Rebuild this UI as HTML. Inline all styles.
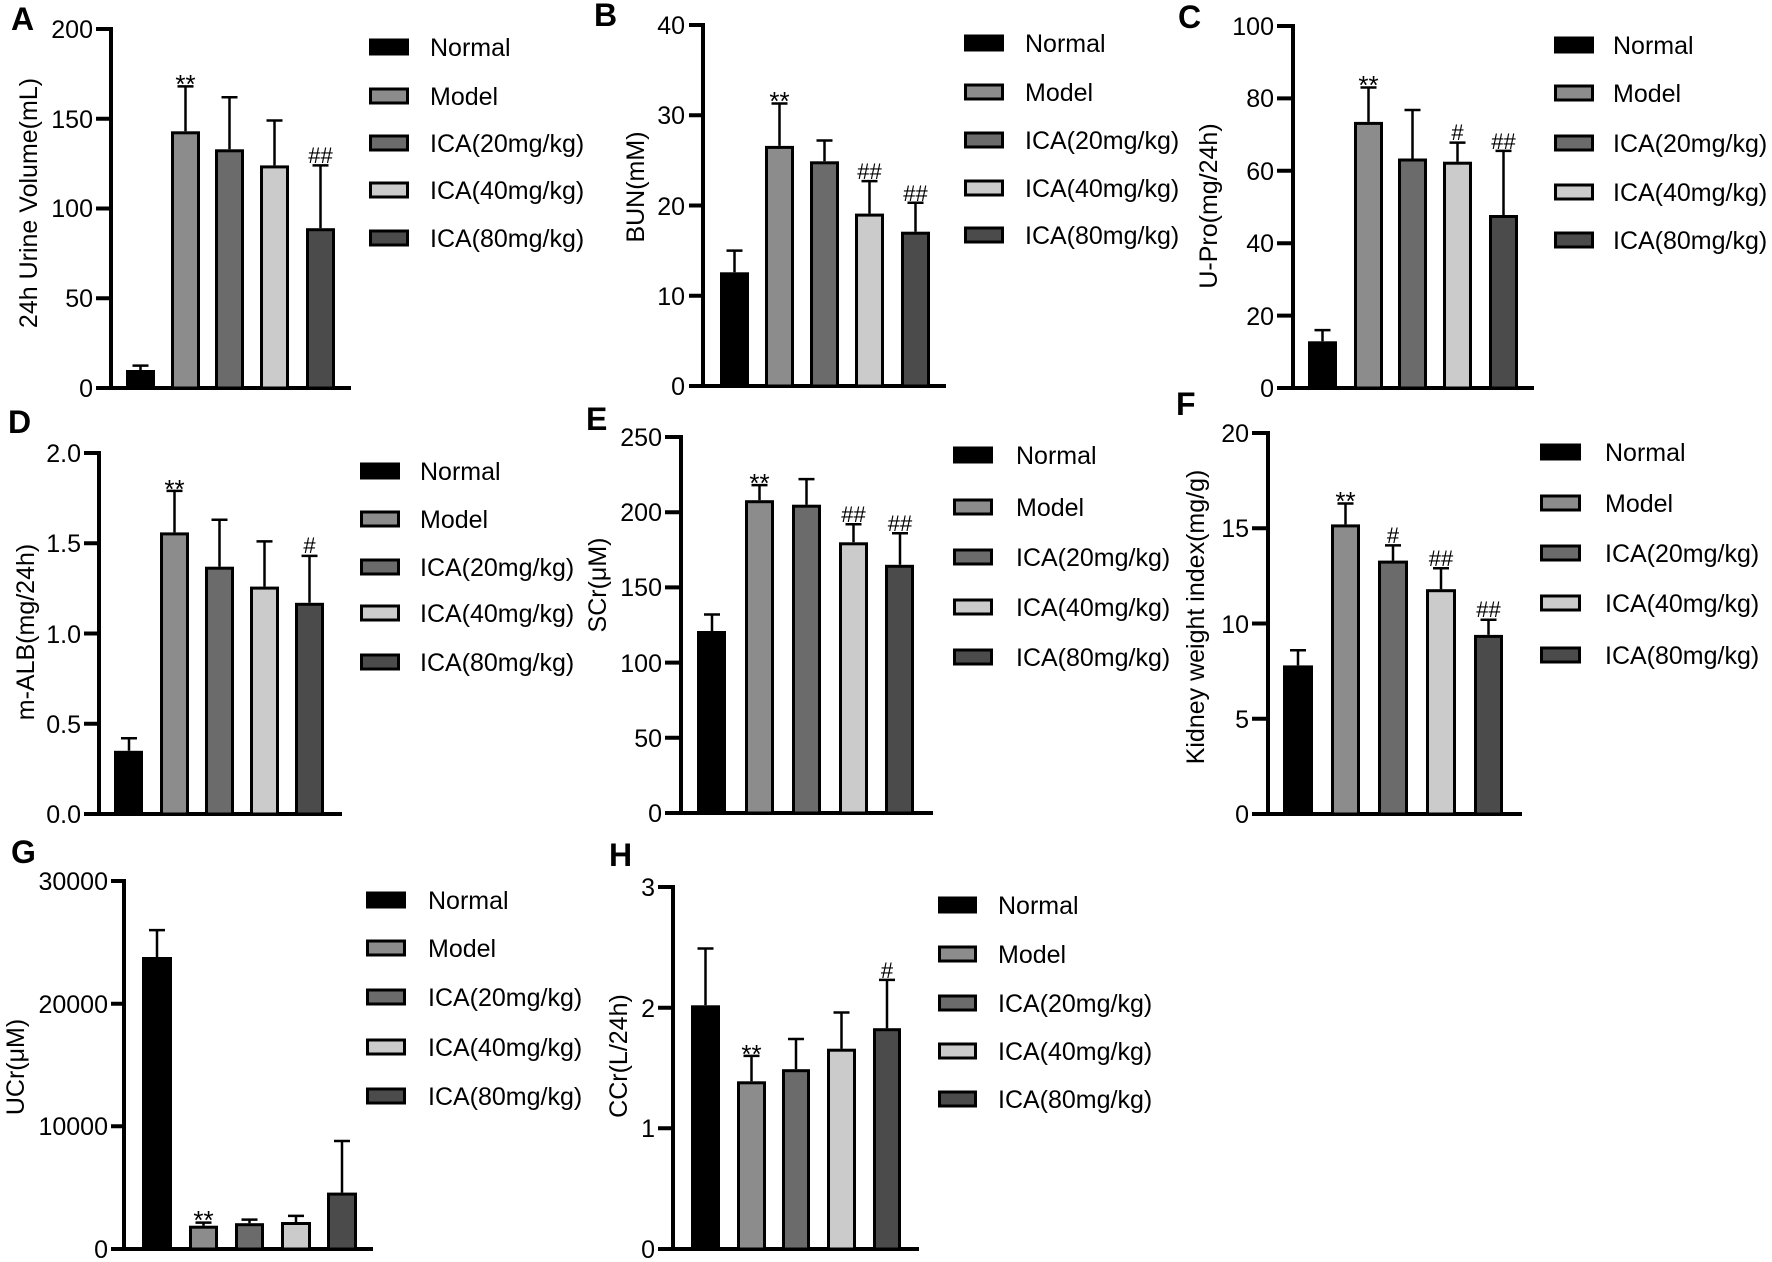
<!DOCTYPE html>
<html><head><meta charset="utf-8"><style>
html,body{margin:0;padding:0;background:#fff;}
svg{display:block;font-family:"Liberation Sans",Arial,sans-serif;}
.t{font-size:25px;fill:#000;}
.tk{font-size:25px;text-anchor:end;}
.yl{font-size:25px;text-anchor:middle;}
.pl{font-size:32px;font-weight:bold;}
.s{font-size:22px;text-anchor:middle;}
.a{font-size:26px;text-anchor:middle;}
.ax{stroke:#000;stroke-width:4;fill:none;}
.b{stroke:#000;stroke-width:3;}
.e{stroke:#000;stroke-width:2.5;fill:none;}
</style></head><body>
<svg width="1772" height="1262" viewBox="0 0 1772 1262" xmlns="http://www.w3.org/2000/svg">
<rect width="1772" height="1262" fill="#fff"/>

<!-- Panel A -->
<text class="pl" x="11" y="30">A</text>
<path class="ax" d="M111 27V388H351M96 388H111M96 298.25H111M96 208.5H111M96 118.75H111M96 29H111"/>
<text class="tk" x="93" y="397">0</text><text class="tk" x="93" y="307">50</text><text class="tk" x="93" y="217">100</text><text class="tk" x="93" y="128">150</text><text class="tk" x="93" y="38">200</text>
<text class="yl" transform="translate(28,203) rotate(-90)" dy="9">24h Urine Volume(mL)</text>
<rect class="b" x="127.5" y="371.5" width="26" height="16.5" fill="#000"/>
<rect class="b" x="172.5" y="132.8" width="26" height="255.2" fill="#8c8c8c"/>
<rect class="b" x="216.5" y="150.8" width="26" height="237.2" fill="#6b6b6b"/>
<rect class="b" x="261.5" y="166.9" width="26" height="221.1" fill="#cbcbcb"/>
<rect class="b" x="307.5" y="229.7" width="26" height="158.3" fill="#4b4b4b"/>
<path class="e" d="M140.5 370V365.6M132.5 365.6H148.5M185.5 131.3V86.4M177.5 86.4H193.5M229.5 149.3V97.2M221.5 97.2H237.5M274.5 165.4V120.5M266.5 120.5H282.5M320.5 228.2V165.4M312.5 165.4H328.5"/>
<text class="a" x="185.5" y="93">**</text><text class="s" x="320.5" y="163">##</text>
<g>
<rect class="b" x="370.5" y="40" width="37" height="14" fill="#000"/><text class="t" x="430" y="56">Normal</text>
<rect class="b" x="370.5" y="89" width="37" height="14" fill="#8c8c8c"/><text class="t" x="430" y="105">Model</text>
<rect class="b" x="370.5" y="136" width="37" height="14" fill="#6b6b6b"/><text class="t" x="430" y="152">ICA(20mg/kg)</text>
<rect class="b" x="370.5" y="183" width="37" height="14" fill="#cbcbcb"/><text class="t" x="430" y="199">ICA(40mg/kg)</text>
<rect class="b" x="370.5" y="231" width="37" height="14" fill="#4b4b4b"/><text class="t" x="430" y="247">ICA(80mg/kg)</text>
</g>

<!-- Panel B -->
<text class="pl" x="594" y="26">B</text>
<path class="ax" d="M703 23V386H946M689 386H703M689 295.75H703M689 205.5H703M689 115.25H703M689 25H703"/>
<text class="tk" x="685" y="395">0</text><text class="tk" x="685" y="305">10</text><text class="tk" x="685" y="215">20</text><text class="tk" x="685" y="124">30</text><text class="tk" x="685" y="34">40</text>
<text class="yl" transform="translate(635,187) rotate(-90)" dy="9">BUN(mM)</text>
<rect class="b" x="721.5" y="273.8" width="26" height="112.2" fill="#000"/>
<rect class="b" x="766.5" y="147.4" width="26" height="238.6" fill="#8c8c8c"/>
<rect class="b" x="811.5" y="162.8" width="26" height="223.2" fill="#6b6b6b"/>
<rect class="b" x="856.5" y="215.1" width="26" height="170.9" fill="#cbcbcb"/>
<rect class="b" x="902.5" y="233.2" width="26" height="152.8" fill="#4b4b4b"/>
<path class="e" d="M734.5 272.3V250.6M726.5 250.6H742.5M779.5 145.9V103.5M771.5 103.5H787.5M824.5 161.3V140.5M816.5 140.5H832.5M869.5 213.6V181.1M861.5 181.1H877.5M915.5 231.7V202.8M907.5 202.8H923.5"/>
<text class="a" x="779.5" y="110">**</text><text class="s" x="869.5" y="179">##</text><text class="s" x="915.5" y="201">##</text>
<g>
<rect class="b" x="965.5" y="36" width="37" height="14" fill="#000"/><text class="t" x="1025" y="52">Normal</text>
<rect class="b" x="965.5" y="85" width="37" height="14" fill="#8c8c8c"/><text class="t" x="1025" y="101">Model</text>
<rect class="b" x="965.5" y="133" width="37" height="14" fill="#6b6b6b"/><text class="t" x="1025" y="149">ICA(20mg/kg)</text>
<rect class="b" x="965.5" y="181" width="37" height="14" fill="#cbcbcb"/><text class="t" x="1025" y="197">ICA(40mg/kg)</text>
<rect class="b" x="965.5" y="228" width="37" height="14" fill="#4b4b4b"/><text class="t" x="1025" y="244">ICA(80mg/kg)</text>
</g>

<!-- Panel C -->
<text class="pl" x="1178" y="28">C</text>
<path class="ax" d="M1293 24V388H1534M1277 388H1293M1277 315.6H1293M1277 243.2H1293M1277 170.8H1293M1277 98.4H1293M1277 26H1293"/>
<text class="tk" x="1274" y="397">0</text><text class="tk" x="1274" y="325">20</text><text class="tk" x="1274" y="252">40</text><text class="tk" x="1274" y="180">60</text><text class="tk" x="1274" y="107">80</text><text class="tk" x="1274" y="35">100</text>
<text class="yl" transform="translate(1208,206) rotate(-90)" dy="9">U-Pro(mg/24h)</text>
<rect class="b" x="1309.5" y="342.8" width="26" height="45.2" fill="#000"/>
<rect class="b" x="1355.5" y="123.4" width="26" height="264.6" fill="#8c8c8c"/>
<rect class="b" x="1399.5" y="160" width="26" height="228" fill="#6b6b6b"/>
<rect class="b" x="1444.5" y="163.2" width="26" height="224.8" fill="#cbcbcb"/>
<rect class="b" x="1490.5" y="216.5" width="26" height="171.5" fill="#4b4b4b"/>
<path class="e" d="M1322.5 341.3V330.1M1314.5 330.1H1330.5M1368.5 121.9V87.5M1360.5 87.5H1376.5M1412.5 158.5V110M1404.5 110H1420.5M1457.5 161.7V142.6M1449.5 142.6H1465.5M1503.5 215V150.9M1495.5 150.9H1511.5"/>
<text class="a" x="1368.5" y="94">**</text><text class="s" x="1457.5" y="140">#</text><text class="s" x="1503.5" y="149">##</text>
<g>
<rect class="b" x="1555.5" y="38" width="37" height="14" fill="#000"/><text class="t" x="1613" y="54">Normal</text>
<rect class="b" x="1555.5" y="86" width="37" height="14" fill="#8c8c8c"/><text class="t" x="1613" y="102">Model</text>
<rect class="b" x="1555.5" y="136" width="37" height="14" fill="#6b6b6b"/><text class="t" x="1613" y="152">ICA(20mg/kg)</text>
<rect class="b" x="1555.5" y="185" width="37" height="14" fill="#cbcbcb"/><text class="t" x="1613" y="201">ICA(40mg/kg)</text>
<rect class="b" x="1555.5" y="233" width="37" height="14" fill="#4b4b4b"/><text class="t" x="1613" y="249">ICA(80mg/kg)</text>
</g>

<!-- Panel D -->
<text class="pl" x="8" y="433">D</text>
<path class="ax" d="M99 451V814H342M84 814H99M84 723.75H99M84 633.5H99M84 543.25H99M84 453H99"/>
<text class="tk" x="81" y="823">0.0</text><text class="tk" x="81" y="733">0.5</text><text class="tk" x="81" y="643">1.0</text><text class="tk" x="81" y="552">1.5</text><text class="tk" x="81" y="462">2.0</text>
<text class="yl" transform="translate(25,632) rotate(-90)" dy="9">m-ALB(mg/24h)</text>
<rect class="b" x="115.5" y="752.3" width="26" height="61.7" fill="#000"/>
<rect class="b" x="161.5" y="533.9" width="26" height="280.1" fill="#8c8c8c"/>
<rect class="b" x="206.5" y="568.2" width="26" height="245.8" fill="#6b6b6b"/>
<rect class="b" x="251.5" y="588.1" width="26" height="225.9" fill="#cbcbcb"/>
<rect class="b" x="296.5" y="604.3" width="26" height="209.7" fill="#4b4b4b"/>
<path class="e" d="M129 750.8V738.2M121 738.2H137M174.5 532.4V490.9M166.5 490.9H182.5M219.5 566.7V519.8M211.5 519.8H227.5M264.5 586.6V541.4M256.5 541.4H272.5M309.5 602.8V555.9M301.5 555.9H317.5"/>
<text class="a" x="174.5" y="498">**</text><text class="s" x="309.5" y="553">#</text>
<g>
<rect class="b" x="361.5" y="464" width="37" height="14" fill="#000"/><text class="t" x="420" y="480">Normal</text>
<rect class="b" x="361.5" y="512" width="37" height="14" fill="#8c8c8c"/><text class="t" x="420" y="528">Model</text>
<rect class="b" x="361.5" y="560" width="37" height="14" fill="#6b6b6b"/><text class="t" x="420" y="576">ICA(20mg/kg)</text>
<rect class="b" x="361.5" y="606" width="37" height="14" fill="#cbcbcb"/><text class="t" x="420" y="622">ICA(40mg/kg)</text>
<rect class="b" x="361.5" y="655" width="37" height="14" fill="#4b4b4b"/><text class="t" x="420" y="671">ICA(80mg/kg)</text>
</g>

<!-- Panel E -->
<text class="pl" x="586" y="430">E</text>
<path class="ax" d="M681 435V813H933M665 813H681M665 737.8H681M665 662.6H681M665 587.4H681M665 512.2H681M665 437H681"/>
<text class="tk" x="662" y="822">0</text><text class="tk" x="662" y="747">50</text><text class="tk" x="662" y="672">100</text><text class="tk" x="662" y="596">150</text><text class="tk" x="662" y="521">200</text><text class="tk" x="662" y="446">250</text>
<text class="yl" transform="translate(597,585) rotate(-90)" dy="9">SCr(μM)</text>
<rect class="b" x="698.5" y="632.5" width="26" height="180.5" fill="#000"/>
<rect class="b" x="746.5" y="501.7" width="26" height="311.3" fill="#8c8c8c"/>
<rect class="b" x="793.5" y="506.2" width="26" height="306.8" fill="#6b6b6b"/>
<rect class="b" x="840.5" y="543.8" width="26" height="269.2" fill="#cbcbcb"/>
<rect class="b" x="886.5" y="566.3" width="26" height="246.7" fill="#4b4b4b"/>
<path class="e" d="M712 631V614.5M704 614.5H720M759.5 500.2V485.1M751.5 485.1H767.5M806.5 504.7V479.1M798.5 479.1H814.5M853.5 542.3V524.2M845.5 524.2H861.5M900 564.8V533.3M892 533.3H908"/>
<text class="a" x="759.5" y="492">**</text><text class="s" x="853.5" y="522">##</text><text class="s" x="900" y="531">##</text>
<g>
<rect class="b" x="954.5" y="448" width="37" height="14" fill="#000"/><text class="t" x="1016" y="464">Normal</text>
<rect class="b" x="954.5" y="500" width="37" height="14" fill="#8c8c8c"/><text class="t" x="1016" y="516">Model</text>
<rect class="b" x="954.5" y="550" width="37" height="14" fill="#6b6b6b"/><text class="t" x="1016" y="566">ICA(20mg/kg)</text>
<rect class="b" x="954.5" y="600" width="37" height="14" fill="#cbcbcb"/><text class="t" x="1016" y="616">ICA(40mg/kg)</text>
<rect class="b" x="954.5" y="650" width="37" height="14" fill="#4b4b4b"/><text class="t" x="1016" y="666">ICA(80mg/kg)</text>
</g>

<!-- Panel F -->
<text class="pl" x="1176" y="415">F</text>
<path class="ax" d="M1268 431V814H1522M1252 814H1268M1252 718.75H1268M1252 623.5H1268M1252 528.25H1268M1252 433H1268"/>
<text class="tk" x="1249" y="823">0</text><text class="tk" x="1249" y="728">5</text><text class="tk" x="1249" y="633">10</text><text class="tk" x="1249" y="537">15</text><text class="tk" x="1249" y="442">20</text>
<text class="yl" transform="translate(1195,617) rotate(-90)" dy="9">Kidney weight index(mg/g)</text>
<rect class="b" x="1284.5" y="666.9" width="27" height="147.1" fill="#000"/>
<rect class="b" x="1332.5" y="525.9" width="26" height="288.1" fill="#8c8c8c"/>
<rect class="b" x="1379.5" y="562.1" width="27" height="251.9" fill="#6b6b6b"/>
<rect class="b" x="1427.5" y="590.7" width="27" height="223.3" fill="#cbcbcb"/>
<rect class="b" x="1475.5" y="636.4" width="26" height="177.6" fill="#4b4b4b"/>
<path class="e" d="M1298 665.4V650.2M1290 650.2H1306M1345.5 524.4V503.5M1337.5 503.5H1353.5M1393 560.6V545.4M1385 545.4H1401M1441 589.2V568.3M1433 568.3H1449M1488.5 634.9V619.7M1480.5 619.7H1496.5"/>
<text class="a" x="1345.5" y="510">**</text><text class="s" x="1393" y="543">#</text><text class="s" x="1441" y="566">##</text><text class="s" x="1488.5" y="617">##</text>
<g>
<rect class="b" x="1541.5" y="445" width="38" height="14" fill="#000"/><text class="t" x="1605" y="461">Normal</text>
<rect class="b" x="1541.5" y="496" width="38" height="14" fill="#8c8c8c"/><text class="t" x="1605" y="512">Model</text>
<rect class="b" x="1541.5" y="546" width="38" height="14" fill="#6b6b6b"/><text class="t" x="1605" y="562">ICA(20mg/kg)</text>
<rect class="b" x="1541.5" y="596" width="38" height="14" fill="#cbcbcb"/><text class="t" x="1605" y="612">ICA(40mg/kg)</text>
<rect class="b" x="1541.5" y="648" width="38" height="14" fill="#4b4b4b"/><text class="t" x="1605" y="664">ICA(80mg/kg)</text>
</g>

<!-- Panel G -->
<text class="pl" x="11" y="863">G</text>
<path class="ax" d="M124 879V1249H373M111 1249H124M111 1126.3H124M111 1003.7H124M111 881H124"/>
<text class="tk" x="108" y="1258">0</text><text class="tk" x="108" y="1135">10000</text><text class="tk" x="108" y="1013">20000</text><text class="tk" x="108" y="890">30000</text>
<text class="yl" transform="translate(15,1067) rotate(-90)" dy="9">UCr(μM)</text>
<rect class="b" x="143.5" y="958.5" width="27" height="290.5" fill="#000"/>
<rect class="b" x="190.5" y="1227.2" width="26" height="21.8" fill="#8c8c8c"/>
<rect class="b" x="236.5" y="1224.7" width="26" height="24.3" fill="#6b6b6b"/>
<rect class="b" x="282.5" y="1223.5" width="27" height="25.5" fill="#cbcbcb"/>
<rect class="b" x="328.5" y="1194.1" width="27" height="54.9" fill="#4b4b4b"/>
<path class="e" d="M157 957V930.1M149 930.1H165M203.5 1225.7V1222.6M195.5 1222.6H211.5M249.5 1223.2V1219.6M241.5 1219.6H257.5M296 1222V1215.9M288 1215.9H304M342 1192.6V1141M334 1141H350"/>
<text class="a" x="203.5" y="1229">**</text>
<g>
<rect class="b" x="367.5" y="893" width="37" height="14" fill="#000"/><text class="t" x="428" y="909">Normal</text>
<rect class="b" x="367.5" y="941" width="37" height="14" fill="#8c8c8c"/><text class="t" x="428" y="957">Model</text>
<rect class="b" x="367.5" y="990" width="37" height="14" fill="#6b6b6b"/><text class="t" x="428" y="1006">ICA(20mg/kg)</text>
<rect class="b" x="367.5" y="1040" width="37" height="14" fill="#cbcbcb"/><text class="t" x="428" y="1056">ICA(40mg/kg)</text>
<rect class="b" x="367.5" y="1089" width="37" height="14" fill="#4b4b4b"/><text class="t" x="428" y="1105">ICA(80mg/kg)</text>
</g>

<!-- Panel H -->
<text class="pl" x="609" y="866">H</text>
<path class="ax" d="M673 885V1249H919M658 1249H673M658 1128.3H673M658 1007.7H673M658 887H673"/>
<text class="tk" x="655" y="1258">0</text><text class="tk" x="655" y="1137">1</text><text class="tk" x="655" y="1017">2</text><text class="tk" x="655" y="896">3</text>
<text class="yl" transform="translate(618,1056) rotate(-90)" dy="9">CCr(L/24h)</text>
<rect class="b" x="692.5" y="1006.8" width="26" height="242.2" fill="#000"/>
<rect class="b" x="738.5" y="1082.8" width="26" height="166.2" fill="#8c8c8c"/>
<rect class="b" x="783.5" y="1070.7" width="25" height="178.3" fill="#6b6b6b"/>
<rect class="b" x="828.5" y="1050.2" width="26" height="198.8" fill="#cbcbcb"/>
<rect class="b" x="874.5" y="1029.7" width="25" height="219.3" fill="#4b4b4b"/>
<path class="e" d="M705.5 1005.3V948.5M697.5 948.5H713.5M751.5 1081.3V1055.9M743.5 1055.9H759.5M796 1069.2V1039M788 1039H804M841.5 1048.7V1012.5M833.5 1012.5H849.5M887 1028.2V979.9M879 979.9H895"/>
<text class="a" x="751.5" y="1063">**</text><text class="s" x="887" y="978">#</text>
<g>
<rect class="b" x="939.5" y="898" width="36" height="14" fill="#000"/><text class="t" x="998" y="914">Normal</text>
<rect class="b" x="939.5" y="947" width="36" height="14" fill="#8c8c8c"/><text class="t" x="998" y="963">Model</text>
<rect class="b" x="939.5" y="996" width="36" height="14" fill="#6b6b6b"/><text class="t" x="998" y="1012">ICA(20mg/kg)</text>
<rect class="b" x="939.5" y="1044" width="36" height="14" fill="#cbcbcb"/><text class="t" x="998" y="1060">ICA(40mg/kg)</text>
<rect class="b" x="939.5" y="1092" width="36" height="14" fill="#4b4b4b"/><text class="t" x="998" y="1108">ICA(80mg/kg)</text>
</g>
</svg>
</body></html>
